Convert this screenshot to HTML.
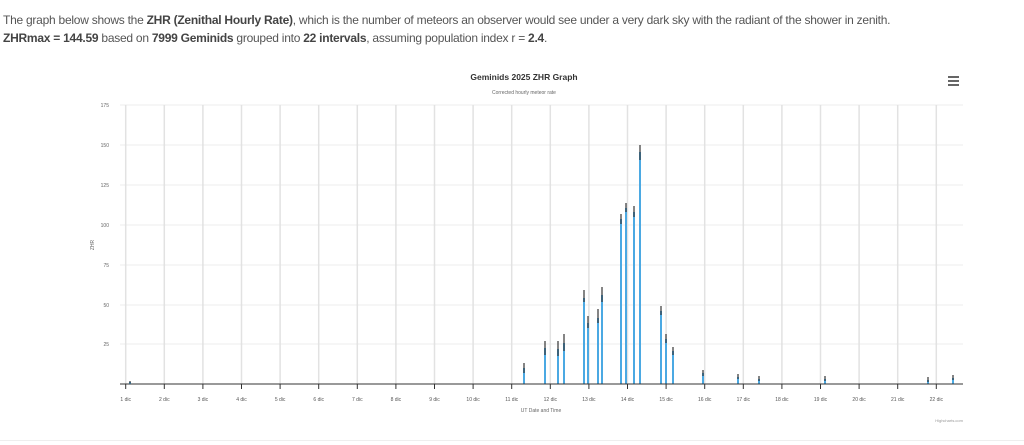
<!DOCTYPE html>
<html><head><meta charset="utf-8"><style>
body{margin:0;width:1024px;height:445px;background:#fff;overflow:hidden;font-family:"Liberation Sans",sans-serif;}
.t{position:absolute;left:3px;font-size:12px;letter-spacing:-0.25px;color:#555;white-space:nowrap}
.t b{color:#444}
</style></head><body>
<div class="t" style="top:13px">The graph below shows the <b>ZHR (Zenithal Hourly Rate)</b>, which is the number of meteors an observer would see under a very dark sky with the radiant of the shower in zenith.</div>
<div class="t" style="top:31px"><b>ZHRmax = 144.59</b> based on <b>7999 Geminids</b> grouped into <b>22 intervals</b>, assuming population index r = <b>2.4</b>.</div>
<svg width="1024" height="445" style="position:absolute;left:0;top:0" font-family="Liberation Sans, sans-serif">
<text x="524" y="80" text-anchor="middle" font-size="8.5" font-weight="bold" fill="#333">Geminids 2025 ZHR Graph</text>
<text x="524" y="94" text-anchor="middle" font-size="5" fill="#666">Corrected hourly meteor rate</text>
<g fill="#666"><rect x="948" y="76" width="11" height="2"/><rect x="948" y="80" width="11" height="2"/><rect x="948" y="84" width="11" height="2"/></g>
<g stroke="#ececec" stroke-width="1">
<line x1="120" x2="963" y1="105" y2="105"/><line x1="120" x2="963" y1="145" y2="145"/><line x1="120" x2="963" y1="185" y2="185"/><line x1="120" x2="963" y1="225" y2="225"/><line x1="120" x2="963" y1="265" y2="265"/><line x1="120" x2="963" y1="305" y2="305"/><line x1="120" x2="963" y1="344" y2="344"/>
</g>
<g stroke="#e2e2e2" stroke-width="1.5">
<line x1="125.7" x2="125.7" y1="105" y2="384"/><line x1="164.3" x2="164.3" y1="105" y2="384"/><line x1="202.9" x2="202.9" y1="105" y2="384"/><line x1="241.5" x2="241.5" y1="105" y2="384"/><line x1="280.1" x2="280.1" y1="105" y2="384"/><line x1="318.7" x2="318.7" y1="105" y2="384"/><line x1="357.3" x2="357.3" y1="105" y2="384"/><line x1="395.9" x2="395.9" y1="105" y2="384"/><line x1="434.5" x2="434.5" y1="105" y2="384"/><line x1="473.1" x2="473.1" y1="105" y2="384"/><line x1="511.7" x2="511.7" y1="105" y2="384"/><line x1="550.3" x2="550.3" y1="105" y2="384"/><line x1="588.9" x2="588.9" y1="105" y2="384"/><line x1="627.5" x2="627.5" y1="105" y2="384"/><line x1="666.1" x2="666.1" y1="105" y2="384"/><line x1="704.7" x2="704.7" y1="105" y2="384"/><line x1="743.3" x2="743.3" y1="105" y2="384"/><line x1="781.9" x2="781.9" y1="105" y2="384"/><line x1="820.5" x2="820.5" y1="105" y2="384"/><line x1="859.1" x2="859.1" y1="105" y2="384"/><line x1="897.7" x2="897.7" y1="105" y2="384"/><line x1="936.3" x2="936.3" y1="105" y2="384"/>
</g>
<g font-size="5" fill="#666" text-anchor="end">
<text x="109" y="107">175</text><text x="109" y="147">150</text><text x="109" y="187">125</text><text x="109" y="227">100</text><text x="109" y="267">75</text><text x="109" y="307">50</text><text x="109" y="346">25</text>
</g>
<text x="0" y="0" font-size="5" fill="#666" text-anchor="middle" transform="translate(94,245) rotate(-90)">ZHR</text>
<g stroke="#4ba9e3" stroke-width="2">
<line x1="130" x2="130" y1="384" y2="382"/>
<line x1="524" x2="524" y1="384" y2="368"/><line x1="545" x2="545" y1="384" y2="348"/><line x1="558" x2="558" y1="384" y2="349"/><line x1="564" x2="564" y1="384" y2="343"/><line x1="584" x2="584" y1="384" y2="298"/><line x1="588" x2="588" y1="384" y2="323"/><line x1="598" x2="598" y1="384" y2="318"/><line x1="602" x2="602" y1="384" y2="295"/><line x1="621" x2="621" y1="384" y2="219"/><line x1="626" x2="626" y1="384" y2="208"/><line x1="634" x2="634" y1="384" y2="212"/><line x1="640" x2="640" y1="384" y2="152"/><line x1="661" x2="661" y1="384" y2="311"/><line x1="666" x2="666" y1="384" y2="339"/><line x1="673" x2="673" y1="384" y2="351"/><line x1="703" x2="703" y1="384" y2="373"/><line x1="738" x2="738" y1="384" y2="377"/><line x1="759" x2="759" y1="384" y2="379"/><line x1="825" x2="825" y1="384" y2="379"/><line x1="928" x2="928" y1="384" y2="380"/><line x1="953" x2="953" y1="384" y2="378"/>
</g>
<g stroke="#333" stroke-width="1.2">
<line x1="130" x2="130" y1="381" y2="383"/>
<line x1="524" x2="524" y1="363" y2="373"/><line x1="545" x2="545" y1="341" y2="355"/><line x1="558" x2="558" y1="341" y2="356"/><line x1="564" x2="564" y1="334" y2="351"/><line x1="584" x2="584" y1="290" y2="302"/><line x1="588" x2="588" y1="316" y2="328"/><line x1="598" x2="598" y1="309" y2="323"/><line x1="602" x2="602" y1="287" y2="302"/><line x1="621" x2="621" y1="214" y2="224"/><line x1="626" x2="626" y1="203" y2="212"/><line x1="634" x2="634" y1="206" y2="217"/><line x1="640" x2="640" y1="145" y2="160"/><line x1="661" x2="661" y1="306" y2="315"/><line x1="666" x2="666" y1="334" y2="343"/><line x1="673" x2="673" y1="347" y2="355"/><line x1="703" x2="703" y1="370" y2="376"/><line x1="738" x2="738" y1="374" y2="379"/><line x1="759" x2="759" y1="376" y2="381"/><line x1="825" x2="825" y1="376" y2="381"/><line x1="928" x2="928" y1="377" y2="382"/><line x1="953" x2="953" y1="375" y2="380"/>
</g>
<line x1="120" x2="963" y1="384" y2="384" stroke="#333" stroke-width="1"/>
<g stroke="#333" stroke-width="1">
<line x1="125.7" x2="125.7" y1="384" y2="389"/><line x1="164.3" x2="164.3" y1="384" y2="389"/><line x1="202.9" x2="202.9" y1="384" y2="389"/><line x1="241.5" x2="241.5" y1="384" y2="389"/><line x1="280.1" x2="280.1" y1="384" y2="389"/><line x1="318.7" x2="318.7" y1="384" y2="389"/><line x1="357.3" x2="357.3" y1="384" y2="389"/><line x1="395.9" x2="395.9" y1="384" y2="389"/><line x1="434.5" x2="434.5" y1="384" y2="389"/><line x1="473.1" x2="473.1" y1="384" y2="389"/><line x1="511.7" x2="511.7" y1="384" y2="389"/><line x1="550.3" x2="550.3" y1="384" y2="389"/><line x1="588.9" x2="588.9" y1="384" y2="389"/><line x1="627.5" x2="627.5" y1="384" y2="389"/><line x1="666.1" x2="666.1" y1="384" y2="389"/><line x1="704.7" x2="704.7" y1="384" y2="389"/><line x1="743.3" x2="743.3" y1="384" y2="389"/><line x1="781.9" x2="781.9" y1="384" y2="389"/><line x1="820.5" x2="820.5" y1="384" y2="389"/><line x1="859.1" x2="859.1" y1="384" y2="389"/><line x1="897.7" x2="897.7" y1="384" y2="389"/><line x1="936.3" x2="936.3" y1="384" y2="389"/>
</g>
<g font-size="5" fill="#555" text-anchor="middle">
<text x="125.7" y="401">1 dic</text><text x="164.3" y="401">2 dic</text><text x="202.9" y="401">3 dic</text><text x="241.5" y="401">4 dic</text><text x="280.1" y="401">5 dic</text><text x="318.7" y="401">6 dic</text><text x="357.3" y="401">7 dic</text><text x="395.9" y="401">8 dic</text><text x="434.5" y="401">9 dic</text><text x="473.1" y="401">10 dic</text><text x="511.7" y="401">11 dic</text><text x="550.3" y="401">12 dic</text><text x="588.9" y="401">13 dic</text><text x="627.5" y="401">14 dic</text><text x="666.1" y="401">15 dic</text><text x="704.7" y="401">16 dic</text><text x="743.3" y="401">17 dic</text><text x="781.9" y="401">18 dic</text><text x="820.5" y="401">19 dic</text><text x="859.1" y="401">20 dic</text><text x="897.7" y="401">21 dic</text><text x="936.3" y="401">22 dic</text>
</g>
<text x="541" y="412" font-size="5" fill="#666" text-anchor="middle">UT Date and Time</text>
<text x="963" y="422" font-size="4" fill="#999" text-anchor="end">Highcharts.com</text>
<line x1="0" x2="1024" y1="440.5" y2="440.5" stroke="#eee" stroke-width="1"/>
</svg>
</body></html>
